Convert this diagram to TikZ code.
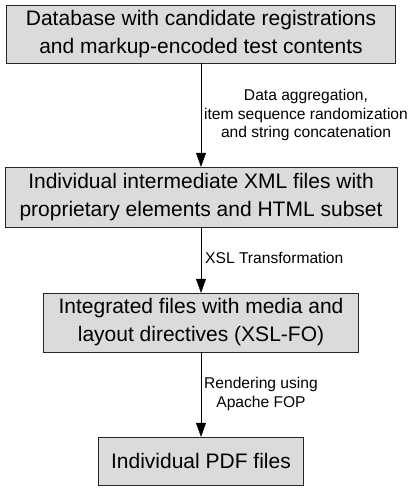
\documentclass[tikz,border=0pt]{standalone}
\usepackage{fontspec}
\setmainfont{Liberation Sans}
\usetikzlibrary{arrows.meta}
\tikzset{
  stage/.style={draw=black!85, fill=black!14, align=center, inner sep=0pt,
    font=\fontsize{21}{28}\selectfont},
  note/.style={align=center, inner sep=0pt, font=\fontsize{15.6}{18.5}\selectfont},
}
\begin{document}
\begin{tikzpicture}[x=1pt,y=1pt,>={Triangle[length=14pt,width=10pt]}]
      \useasboundingbox (0,0) rectangle (417,-491);
      \node[stage, minimum width=389pt, minimum height=58pt] (db) at (201,-34)
        {Database with candidate registrations\\and markup-encoded test contents};
      \node[stage, minimum width=392pt, minimum height=60pt] (xml) at (201,-197)
        {Individual intermediate XML files with\\proprietary elements and HTML subset};
      \node[stage, minimum width=315pt, minimum height=59pt] (fo) at (201,-322.5)
        {Integrated files with media and\\layout directives (XSL-FO)};
      \node[stage, minimum width=205pt, minimum height=48pt] (pdf) at (201,-461)
        {Individual PDF files};
      \draw[->] (db) -- (xml);
      \draw[->] (xml) -- (fo);
      \draw[->] (fo) -- (pdf);
      \node[note] (aggr) at (306,-115)
        {Data aggregation,\\item sequence randomization\\and string concatenation};
      \node[note, anchor=west] (xslt) at (205,-258) {XSL Transformation};
      \node[note] (fop) at (261,-394) {Rendering using\\Apache FOP};
   \end{tikzpicture}
\end{document}
